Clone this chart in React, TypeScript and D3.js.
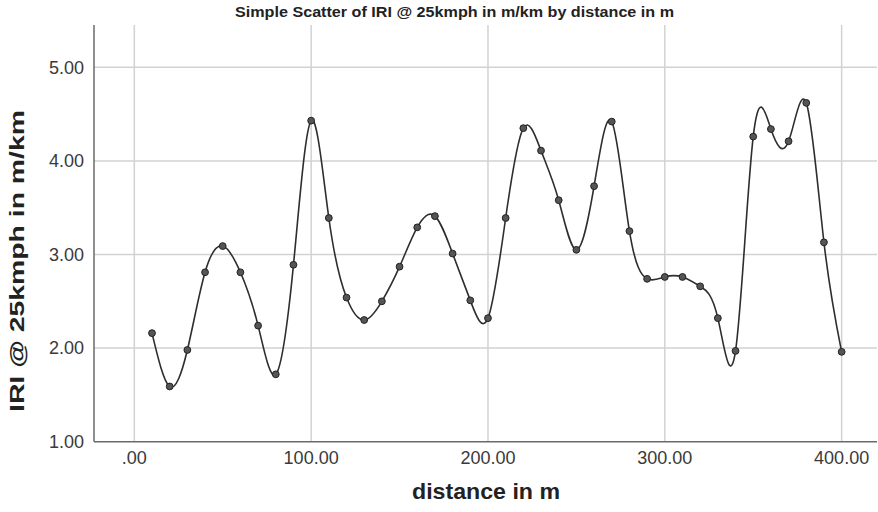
import React from "react";
import * as d3 from "d3";

const distances = [10, 20, 30, 40, 50, 60, 70, 80, 90, 100, 110, 120, 130, 140, 150, 160, 170, 180, 190, 200, 210, 220, 230, 240, 250, 260, 270, 280, 290, 300, 310, 320, 330, 340, 350, 360, 370, 380, 390, 400];
const iriValues = [2.16, 1.59, 1.98, 2.81, 3.09, 2.81, 2.24, 1.72, 2.89, 4.43, 3.39, 2.54, 2.3, 2.5, 2.87, 3.29, 3.41, 3.01, 2.51, 2.32, 3.39, 4.35, 4.11, 3.58, 3.05, 3.73, 4.42, 3.25, 2.74, 2.76, 2.76, 2.66, 2.32, 1.97, 4.26, 4.34, 4.21, 4.62, 3.13, 1.96];
const xTicks = [0, 100, 200, 300, 400];
const yTicks = [1, 2, 3, 4, 5];

const title = "Simple Scatter of IRI @ 25kmph in m/km by distance in m";
const xTitle = "distance in m";
const yTitle = "IRI @ 25kmph in m/km";

export default function App() {
  const W = 878, H = 512;
  const left = 94, right = 877, top = 25, bottom = 441.7;
  const x = d3.scaleLinear().domain([-22.8, 420]).range([left, right]);
  const y = d3.scaleLinear().domain([1, 5.452]).range([bottom, top]);
  const pts = distances.map((d, i) => [d, iriValues[i]] as [number, number]);
  const line = d3.line<[number, number]>().x(d => x(d[0])).y(d => y(d[1])).curve(d3.curveNatural);
  const fmt = (v: number) => (v === 0 ? ".00" : d3.format(".2f")(v));
  const font = "'Liberation Sans', Arial, sans-serif";
  return (
    <svg width={W} height={H} style={{ position: "absolute", left: 0, top: 0, background: "#fff" }} fontFamily={font}>
      <rect x={0} y={0} width={W} height={H} fill="#fff" />
      {yTicks.filter(t => t > 1).map(t => (
        <line key={"gy" + t} x1={left} x2={right} y1={y(t)} y2={y(t)} stroke="#d2d2d2" strokeWidth={1.5} />
      ))}
      {xTicks.map(t => (
        <line key={"gx" + t} x1={x(t)} x2={x(t)} y1={top} y2={bottom} stroke="#d2d2d2" strokeWidth={1.5} />
      ))}
      <line x1={left} x2={left} y1={top} y2={bottom} stroke="#6a6a6a" strokeWidth={1.5} />
      <line x1={left} x2={right} y1={bottom} y2={bottom} stroke="#6a6a6a" strokeWidth={1.5} />
      {yTicks.map(t => (
        <text key={"ty" + t} x={84} y={y(t)} dy="0.35em" textAnchor="end" fontSize={18} fill="#3a3a3a">{fmt(t)}</text>
      ))}
      {xTicks.map(t => (
        <text key={"tx" + t} x={x(t)} y={464} textAnchor="middle" fontSize={18} fill="#3a3a3a">{fmt(t)}</text>
      ))}
      <path d={line(pts) || ""} fill="none" stroke="#2e2e2e" strokeWidth={1.6} />
      {pts.map((p, i) => (
        <circle key={i} cx={x(p[0])} cy={y(p[1])} r={3.4} fill="#555" stroke="#222" strokeWidth={1} />
      ))}
      <text x={454.5} y={17} textAnchor="middle" fontSize={14} fontWeight="bold" fill="#222" textLength={439} lengthAdjust="spacingAndGlyphs">{title}</text>
      <text x={486} y={499} textAnchor="middle" fontSize={22} fontWeight="bold" fill="#222" textLength={148} lengthAdjust="spacingAndGlyphs">{xTitle}</text>
      <text transform={`translate(24,261) rotate(-90)`} textAnchor="middle" fontSize={21} fontWeight="bold" fill="#222" textLength={302} lengthAdjust="spacingAndGlyphs">{yTitle}</text>
    </svg>
  );
}
